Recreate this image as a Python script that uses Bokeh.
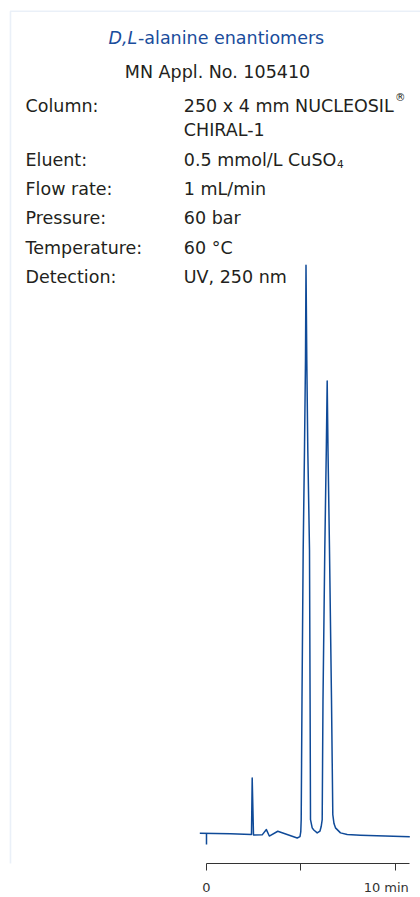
from bokeh.plotting import figure
from bokeh.models import Range1d, LinearAxis, FixedTicker, Label, BoxAnnotation
from bokeh.embed import file_html
from bokeh.resources import INLINE

# ---- data ----
time_min = [-0.354, 1.27, 2.365, 2.381, 2.418, 2.487, 2.947, 3.169, 3.323, 3.772,
            4.799, 4.947, 4.989, 5.011, 5.053, 5.116, 5.185, 5.238, 5.265,
            5.307, 5.360, 5.450, 5.481, 5.503, 5.593, 5.677, 5.857, 6.005,
            6.069, 6.122, 6.164, 6.259, 6.339, 6.386, 6.429, 6.508, 6.614,
            6.683, 6.746, 6.825, 7.090, 7.444, 8.148, 10.757]
signal = [0.05, -0.05, -0.18, -0.18, 9.79, -0.26, -0.23, 0.70, -0.44, 0.40,
          -0.79, -0.53, 0.35, 2.46, 23.55, 49.91, 67.49, 83.30, 100.0,
          83.30, 67.49, 49.91, 23.55, 2.46, 1.00, 0.62, 0.12, 0.44,
          1.23, 2.46, 23.55, 49.91, 67.49, 79.61, 67.49, 49.91, 23.55,
          3.34, 1.76, 1.00, 0.12, -0.18, -0.30, -0.58]
inject_t = [0.0, 0.0]
inject_s = [0.05, -1.93]

tick_values = [0, 5, 10]
tick_labels = ["0", "", "10 min"]
label_shift = {0: 0.0, 5: 0.0, 10: -0.49}   # "10 min" sits left of its tick

title_italic = "D,L"
title_rest = "-alanine enantiomers"
subtitle = "MN Appl. No. 105410"
param_names = ["Column:", "", "Eluent:", "Flow rate:", "Pressure:", "Temperature:", "Detection:"]
param_values = ["250 x 4 mm NUCLEOSIL", "CHIRAL-1", "0.5 mmol/L CuSO", "1 mL/min", "60 bar", "60 °C", "UV, 250 nm"]

FONT = "DejaVu Sans"
TXT = "#231f20"
BLUE = "#1a4d9c"
TRACE = "#0f4a98"
AXC = "#333333"

W, H = 420, 897
BB = 33                      # bottom border (axis)
FRAME_BOTTOM = H - BB        # page y of frame bottom
DY = -2                      # vertical nudge for header texts


def sx(px):
    return px


def sy(py):
    return FRAME_BOTTOM - (py + DY)


p = figure(width=W, height=H, output_backend="svg", toolbar_location=None,
           x_range=Range1d(-10.899, 11.323), y_range=Range1d(-5.27, 146.57),
           x_axis_type=None, y_axis_type=None,
           min_border_left=0, min_border_right=0, min_border_top=0, min_border_bottom=BB)
p.outline_line_color = None
p.background_fill_color = "white"
p.border_fill_color = "white"

# frame border lines (left and top)
p.add_layout(BoxAnnotation(left=10, right=700, top=FRAME_BOTTOM - 11.8, bottom=-400,
                           left_units="screen", right_units="screen",
                           top_units="screen", bottom_units="screen",
                           fill_color=None, fill_alpha=0, line_color="#b9cde8", line_width=1.6))

p.line(time_min, signal, line_color=TRACE, line_width=1.5, line_join="round")
p.line(inject_t, inject_s, line_color=TRACE, line_width=1.5)

label_pos = [v + label_shift[v] for v, l in zip(tick_values, tick_labels) if l]
label_txt = {pos: l for pos, l in zip(label_pos, [l for l in tick_labels if l])}
xaxis = LinearAxis(ticker=FixedTicker(ticks=label_pos, minor_ticks=tick_values),
                   bounds=(0, time_min[-1]),
                   major_label_overrides=label_txt,
                   major_tick_in=0, major_tick_out=0,
                   minor_tick_in=0, minor_tick_out=7,
                   minor_tick_line_color=AXC, minor_tick_line_width=1,
                   axis_line_color=AXC, major_tick_line_color=None,
                   major_label_text_font=FONT, major_label_text_font_size="13px",
                   major_label_text_color=AXC, major_label_standoff=9)
p.add_layout(xaxis, "below")

# title lines
p.add_layout(Label(x=sx(108), y=sy(40), x_units="screen", y_units="screen", text=title_italic,
                   text_font=FONT, text_font_style="italic", text_font_size="17.5px",
                   text_color=BLUE, text_align="left", text_baseline="alphabetic"))
p.add_layout(Label(x=sx(137.5), y=sy(40), x_units="screen", y_units="screen", text=title_rest,
                   text_font=FONT, text_font_size="17.5px",
                   text_color=BLUE, text_align="left", text_baseline="alphabetic"))
p.add_layout(Label(x=sx(217), y=sy(74), x_units="screen", y_units="screen", text=subtitle,
                   text_font=FONT, text_font_size="17.5px",
                   text_color=TXT, text_align="center", text_baseline="alphabetic"))

baselines = [108.5, 132, 162, 191, 220.5, 250, 279]
for name, val, b in zip(param_names, param_values, baselines):
    if name:
        p.add_layout(Label(x=sx(25), y=sy(b), x_units="screen", y_units="screen", text=name,
                           text_font=FONT, text_font_size="17.5px", text_color=TXT,
                           text_align="left", text_baseline="alphabetic"))
    p.add_layout(Label(x=sx(183.3), y=sy(b), x_units="screen", y_units="screen", text=val,
                       text_font=FONT, text_font_size="17.5px", text_color=TXT,
                       text_align="left", text_baseline="alphabetic"))

# superscript ® and subscript 4
p.add_layout(Label(x=sx(394.5), y=sy(99), x_units="screen", y_units="screen", text="®",
                   text_font=FONT, text_font_size="10.5px", text_color=TXT,
                   text_align="left", text_baseline="alphabetic"))
p.add_layout(Label(x=sx(336.5), y=sy(166), x_units="screen", y_units="screen", text="4",
                   text_font=FONT, text_font_size="10.5px", text_color=TXT,
                   text_align="left", text_baseline="alphabetic"))

open("out.html", "w").write(file_html(p, INLINE))
